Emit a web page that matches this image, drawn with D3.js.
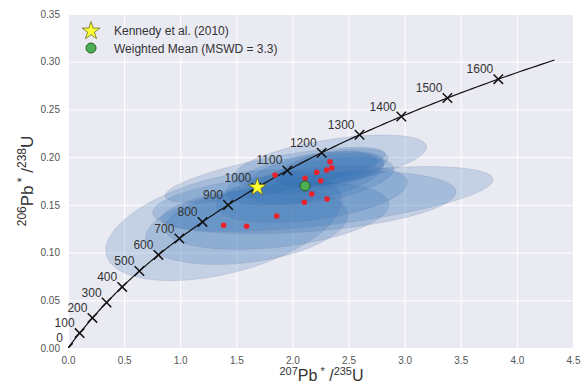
<!DOCTYPE html>
<html>
<head>
<meta charset="utf-8">
<script src="https://cdn.jsdelivr.net/npm/d3@7"></script>
<style>
  body { margin: 0; background: #fff; }
  text { font-family: "Liberation Sans", Arial, sans-serif; }
</style>
</head>
<body>
<main></main>
<script>
// ---- data ----
const xTicks = [0.0, 0.5, 1.0, 1.5, 2.0, 2.5, 3.0, 3.5, 4.0, 4.5];
const yTicks = [0.00, 0.05, 0.10, 0.15, 0.20, 0.25, 0.30, 0.35];
const ageTicks = [0, 100, 200, 300, 400, 500, 600, 700, 800, 900, 1000, 1100, 1200, 1300, 1400, 1500, 1600];
const ageEnd = 1700; // Ma, end of the concordia line

// decay constants (per Ma)
const lambda238 = 1.55125e-4;
const lambda235 = 9.8485e-4;

// spot analyses: 207Pb/235U, 206Pb/238U, 2-sigma errors, error correlation
const spotX = [1.387, 1.592, 1.860, 1.845, 2.112, 2.216, 2.335, 2.350, 2.305, 2.252, 2.172, 2.106, 2.308];
const spotY = [0.1286, 0.1275, 0.1383, 0.1813, 0.1778, 0.1841, 0.1952, 0.1889, 0.1865, 0.1753, 0.1614, 0.1527, 0.1561];
const errX  = [1.05, 0.90, 1.00, 0.98, 0.70, 0.60, 0.86, 0.50, 0.45, 0.65, 0.85, 1.35, 1.48];
const errY  = [0.058, 0.040, 0.035, 0.029, 0.028, 0.022, 0.028, 0.020, 0.018, 0.025, 0.030, 0.033, 0.034];
const rho   = [0.45, 0.30, 0.35, 0.75, 0.50, 0.50, 0.55, 0.50, 0.50, 0.50, 0.40, 0.33, 0.60];

const kennedy = { x: 1.687, y: 0.1684 };
const weightedMean = { x: 2.112, y: 0.1698 };
const legendLabels = ["Kennedy et al. (2010)", "Weighted Mean (MSWD = 3.3)"];

// ---- setup ----
const width = 583, height = 385;
const margin = { top: 14, right: 10, bottom: 37, left: 68 };

const svg = d3.select('main').append('svg')
    .attr('width', width)
    .attr('height', height);

const x = d3.scaleLinear().domain([0, 4.5]).range([margin.left, width - margin.right]);
const y = d3.scaleLinear().domain([0, 0.35]).range([height - margin.bottom, margin.top]);

// background
svg.append('rect')
    .attr('x', x(0)).attr('y', y(0.35))
    .attr('width', x(4.5) - x(0)).attr('height', y(0) - y(0.35))
    .attr('fill', '#eaeaf2');

// grid lines
svg.append('g')
    .attr('transform', `translate(0,${y(0)})`)
    .call(d3.axisBottom(x).tickValues(xTicks).tickSize(-(y(0) - y(0.35))).tickFormat(''))
    .call(g => g.select('.domain').remove())
    .call(g => g.selectAll('line').attr('stroke', '#fff').attr('stroke-width', 1));

svg.append('g')
    .attr('transform', `translate(${x(0)},0)`)
    .call(d3.axisLeft(y).tickValues(yTicks).tickSize(-(x(4.5) - x(0))).tickFormat(''))
    .call(g => g.select('.domain').remove())
    .call(g => g.selectAll('line').attr('stroke', '#fff').attr('stroke-width', 1));

// tick labels
svg.append('g')
    .attr('transform', `translate(0,${y(0)})`)
    .call(d3.axisBottom(x).tickValues(xTicks).tickSize(0).tickPadding(9).tickFormat(d3.format('.1f')))
    .call(g => g.select('.domain').remove())
    .call(g => g.selectAll('text').attr('fill', '#555').attr('font-size', 10).attr('font-family', null));

svg.append('g')
    .attr('transform', `translate(${x(0)},0)`)
    .call(d3.axisLeft(y).tickValues(yTicks).tickSize(0).tickPadding(8).tickFormat(d3.format('.2f')))
    .call(g => g.select('.domain').remove())
    .call(g => g.selectAll('text').attr('fill', '#555').attr('font-size', 10).attr('font-family', null));

// clip to plot area
svg.append('clipPath').attr('id', 'plot-clip')
    .append('rect')
    .attr('x', x(0)).attr('y', y(0.35))
    .attr('width', x(4.5) - x(0)).attr('height', y(0) - y(0.35));

const plot = svg.append('g').attr('clip-path', 'url(#plot-clip)');

// error ellipses
const ellipseLine = d3.line().x(d => x(d[0])).y(d => y(d[1])).curve(d3.curveLinearClosed);
const thetas = d3.range(0, 2 * Math.PI, Math.PI / 60);

plot.selectAll('path.ellipse')
    .data(spotX.map((v, i) => i))
    .enter()
    .append('path')
    .attr('class', 'ellipse')
    .attr('d', i => ellipseLine(thetas.map(t => [
        spotX[i] + errX[i] * Math.cos(t),
        spotY[i] + errY[i] * (rho[i] * Math.cos(t) + Math.sqrt(1 - rho[i] * rho[i]) * Math.sin(t))
    ])))
    .attr('fill', '#2c70b2')
    .attr('fill-opacity', 0.2)
    .attr('stroke', '#7a7f9a')
    .attr('stroke-opacity', 0.2)
    .attr('stroke-width', 1);

// concordia
const concordia = t => [Math.exp(lambda235 * t) - 1, Math.exp(lambda238 * t) - 1];

plot.append('path')
    .datum(d3.range(0, ageEnd + 1, 10).map(concordia))
    .attr('fill', 'none')
    .attr('stroke', '#111')
    .attr('stroke-width', 1.2)
    .attr('d', d3.line().x(d => x(d[0])).y(d => y(d[1])));

// age markers
const cross = d3.symbol().type(d3.symbolX).size(60);
plot.selectAll('path.age')
    .data(ageTicks)
    .enter()
    .append('path')
    .attr('class', 'age')
    .attr('transform', d => `translate(${x(concordia(d)[0])},${y(concordia(d)[1])})`)
    .attr('d', cross)
    .attr('fill', 'none')
    .attr('stroke', '#111')
    .attr('stroke-width', 1.5);

svg.selectAll('text.age')
    .data(ageTicks)
    .enter()
    .append('text')
    .attr('class', 'age')
    .attr('x', d => x(concordia(d)[0]) - 5)
    .attr('y', d => y(concordia(d)[1]) - 6)
    .attr('text-anchor', 'end')
    .attr('font-size', 12)
    .attr('fill', '#333')
    .text(d => d);

// spot centres
plot.selectAll('circle.spot')
    .data(spotX.map((v, i) => i))
    .enter()
    .append('circle')
    .attr('class', 'spot')
    .attr('cx', i => x(spotX[i]))
    .attr('cy', i => y(spotY[i]))
    .attr('r', 2.8)
    .attr('fill', '#e8232b');

// weighted mean + Kennedy
plot.append('circle')
    .attr('cx', x(weightedMean.x)).attr('cy', y(weightedMean.y))
    .attr('r', 5)
    .attr('fill', '#4db052')
    .attr('stroke', '#2a5a2a').attr('stroke-width', 1);

const star = d3.symbol().type(d3.symbolStar).size(100);
plot.append('path')
    .attr('transform', `translate(${x(kennedy.x)},${y(kennedy.y)})`)
    .attr('d', star)
    .attr('fill', '#ffff33')
    .attr('stroke', '#6b6b20').attr('stroke-width', 0.8);

// legend
const legend = svg.append('g');
legend.append('path')
    .attr('transform', 'translate(91,31)')
    .attr('d', star)
    .attr('fill', '#ffff33')
    .attr('stroke', '#6b6b20').attr('stroke-width', 0.8);
legend.append('circle')
    .attr('cx', 91).attr('cy', 48).attr('r', 5)
    .attr('fill', '#4db052')
    .attr('stroke', '#2a5a2a').attr('stroke-width', 1);
legend.selectAll('text')
    .data(legendLabels)
    .enter()
    .append('text')
    .attr('x', 114)
    .attr('y', (d, i) => 35 + i * 17.5)
    .attr('font-size', 12)
    .attr('fill', '#333')
    .text(d => d);

// axis labels
function isotopeLabel(sel, top, bottom, big, small) {
    sel.append('tspan').attr('font-size', small).attr('dy', -big * 0.4).text(top);
    sel.append('tspan').attr('font-size', big).attr('dy', big * 0.4).text('Pb');
    sel.append('tspan').attr('font-size', small).attr('dy', -big * 0.4).text(' *');
    sel.append('tspan').attr('font-size', big).attr('dy', big * 0.4).text(' /');
    sel.append('tspan').attr('font-size', small).attr('dy', -big * 0.4).text(bottom);
    sel.append('tspan').attr('font-size', big).attr('dy', big * 0.4).text('U');
}

svg.append('text')
    .attr('x', (x(0) + x(4.5)) / 2 + 1)
    .attr('y', 381)
    .attr('text-anchor', 'middle')
    .attr('fill', '#333')
    .call(isotopeLabel, '207', '235', 16, 11);

svg.append('text')
    .attr('transform', `translate(33,${(y(0) + y(0.35)) / 2}) rotate(-90)`)
    .attr('text-anchor', 'middle')
    .attr('fill', '#333')
    .call(isotopeLabel, '206', '238', 17, 12);
</script>
</body>
</html>
